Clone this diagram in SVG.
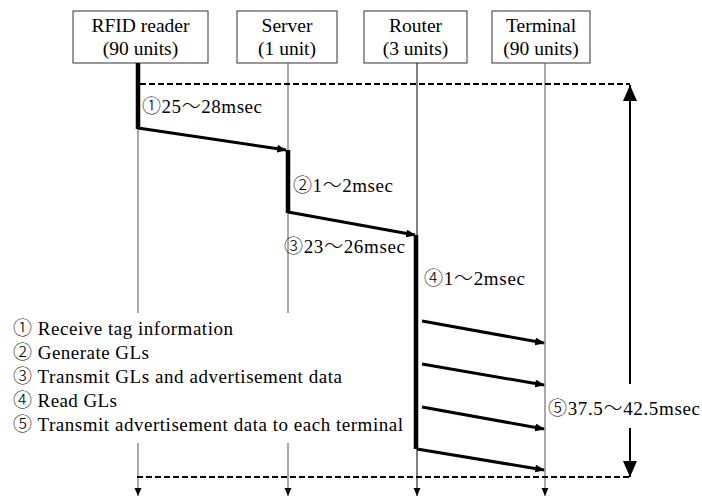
<svg xmlns="http://www.w3.org/2000/svg" width="702" height="499" viewBox="0 0 702 499">
<defs>
<marker id="ah" markerWidth="10" markerHeight="8" refX="9" refY="4" orient="auto" markerUnits="userSpaceOnUse">
<path d="M0,0 L10,4 L0,8 Z" fill="#000"/>
</marker>
<marker id="sm" markerWidth="8" markerHeight="8" refX="8" refY="4" orient="auto" markerUnits="userSpaceOnUse">
<path d="M0,0.5 L8,4 L0,7.5 Z" fill="#000"/>
</marker>
<marker id="big" markerWidth="16" markerHeight="14" refX="16" refY="7" orient="auto" markerUnits="userSpaceOnUse">
<path d="M0,0 L16,7 L0,14 Z" fill="#000"/>
</marker>
</defs>
<rect width="702" height="499" fill="#fff"/>
<g id="rfid">
<rect x="73" y="11" width="135" height="52" fill="#fff" stroke="#333"/>
<text x="140.5" y="32" font-size="19.5" text-anchor="middle" style="font-family:'Liberation Serif',serif !important">RFID reader</text>
<text x="140.5" y="55" font-size="19.5" text-anchor="middle" style="font-family:'Liberation Serif',serif !important">(90 units)</text>
</g>
<g id="server">
<rect x="237" y="11" width="100" height="52" fill="#fff" stroke="#333"/>
<text x="287" y="32" font-size="19.5" text-anchor="middle" style="font-family:'Liberation Serif',serif !important">Server</text>
<text x="287" y="55" font-size="19.5" text-anchor="middle" style="font-family:'Liberation Serif',serif !important">(1 unit)</text>
</g>
<g id="router">
<rect x="364" y="11" width="103" height="52" fill="#fff" stroke="#333"/>
<text x="415.5" y="32" font-size="19.5" text-anchor="middle" style="font-family:'Liberation Serif',serif !important">Router</text>
<text x="415.5" y="55" font-size="19.5" text-anchor="middle" style="font-family:'Liberation Serif',serif !important">(3 units)</text>
</g>
<g id="terminal">
<rect x="492" y="11" width="98" height="52" fill="#fff" stroke="#333"/>
<text x="541" y="32" font-size="19.5" text-anchor="middle" style="font-family:'Liberation Serif',serif !important">Terminal</text>
<text x="541" y="55" font-size="19.5" text-anchor="middle" style="font-family:'Liberation Serif',serif !important">(90 units)</text>
</g>
<g id="connectors" fill="none">
<g stroke="#555" stroke-width="1">
<line x1="138" y1="63" x2="138" y2="313"/>
<line x1="138" y1="443" x2="138" y2="496" marker-end="url(#sm)"/>
<line x1="288" y1="63" x2="288" y2="313"/>
<line x1="288" y1="443" x2="288" y2="496" marker-end="url(#sm)"/>
<line x1="417" y1="63" x2="417" y2="496" stroke="#000" marker-end="url(#sm)"/>
<line x1="545" y1="63" x2="545" y2="496" marker-end="url(#sm)"/>
</g>
<g stroke="#000" stroke-width="4.5">
<line x1="138" y1="63" x2="138" y2="129"/>
<line x1="288" y1="150" x2="288" y2="213"/>
<line x1="416" y1="235" x2="416" y2="449"/>
</g>
<g stroke="#000" stroke-width="3" marker-end="url(#ah)">
<line x1="138" y1="128" x2="286" y2="150"/>
<line x1="288" y1="212" x2="415" y2="235"/>
<line x1="422" y1="321" x2="544" y2="343"/>
<line x1="422" y1="364" x2="544" y2="385"/>
<line x1="422" y1="407" x2="544" y2="429"/>
<line x1="417" y1="449" x2="544" y2="470"/>
</g>
<g stroke="#000" stroke-width="2" stroke-dasharray="6 3">
<line x1="140" y1="84" x2="630" y2="84"/>
<line x1="137" y1="477" x2="630" y2="477"/>
</g>
<g stroke="#000" stroke-width="2" marker-end="url(#big)">
<line x1="630" y1="384" x2="630" y2="85"/>
<line x1="630" y1="428" x2="630" y2="477"/>
</g>
</g>
<g id="labels" font-size="19">
<text x="142" y="113" textLength="120" style="font-family:'Liberation Serif',serif !important"><tspan style="font-family:'Noto Sans CJK JP' !important" font-weight="300">①</tspan>25<tspan style="font-family:'Noto Sans CJK JP' !important" font-weight="300">～</tspan>28msec</text>
<text x="293" y="192" textLength="100" style="font-family:'Liberation Serif',serif !important"><tspan style="font-family:'Noto Sans CJK JP' !important" font-weight="300">②</tspan>1<tspan style="font-family:'Noto Sans CJK JP' !important" font-weight="300">～</tspan>2msec</text>
<text x="284" y="253" textLength="121" style="font-family:'Liberation Serif',serif !important"><tspan style="font-family:'Noto Sans CJK JP' !important" font-weight="300">③</tspan>23<tspan style="font-family:'Noto Sans CJK JP' !important" font-weight="300">～</tspan>26msec</text>
<text x="424" y="285" textLength="101" style="font-family:'Liberation Serif',serif !important"><tspan style="font-family:'Noto Sans CJK JP' !important" font-weight="300">④</tspan>1<tspan style="font-family:'Noto Sans CJK JP' !important" font-weight="300">～</tspan>2msec</text>
<text x="548" y="415" textLength="152" style="font-family:'Liberation Serif',serif !important"><tspan style="font-family:'Noto Sans CJK JP' !important" font-weight="300">⑤</tspan>37.5<tspan style="font-family:'Noto Sans CJK JP' !important" font-weight="300">～</tspan>42.5msec</text>
</g>
<g id="legend" font-size="19">
<text x="13" y="335" textLength="220" style="font-family:'Liberation Serif',serif !important"><tspan style="font-family:'Noto Sans CJK JP' !important" font-weight="300">①</tspan> Receive tag information</text>
<text x="13" y="359" textLength="136" style="font-family:'Liberation Serif',serif !important"><tspan style="font-family:'Noto Sans CJK JP' !important" font-weight="300">②</tspan> Generate GLs</text>
<text x="13" y="383" textLength="329" style="font-family:'Liberation Serif',serif !important"><tspan style="font-family:'Noto Sans CJK JP' !important" font-weight="300">③</tspan> Transmit GLs and advertisement data</text>
<text x="13" y="407" textLength="104" style="font-family:'Liberation Serif',serif !important"><tspan style="font-family:'Noto Sans CJK JP' !important" font-weight="300">④</tspan> Read GLs</text>
<text x="13" y="431" textLength="390" style="font-family:'Liberation Serif',serif !important"><tspan style="font-family:'Noto Sans CJK JP' !important" font-weight="300">⑤</tspan> Transmit advertisement data to each terminal</text>
</g>
</svg>
